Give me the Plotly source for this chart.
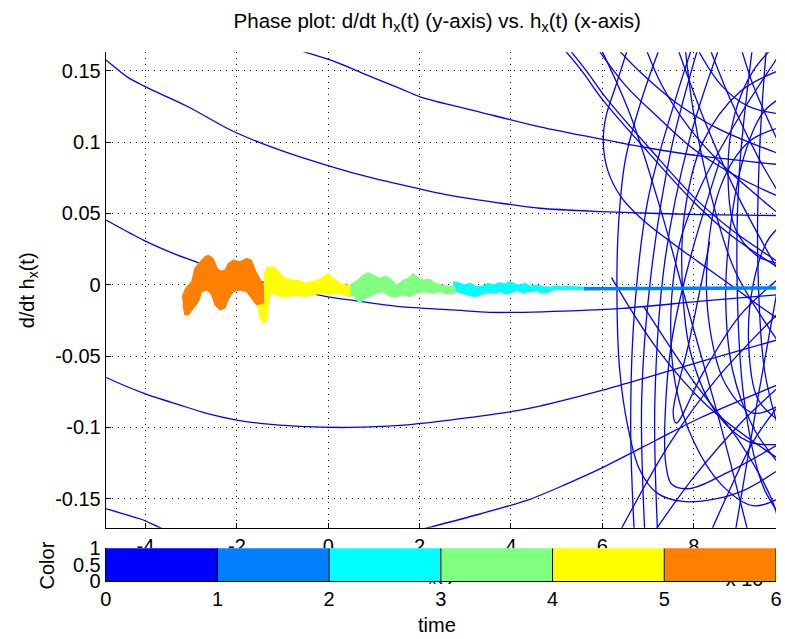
import plotly.graph_objects as go

# ---- axis ticks -------------------------------------------------------------
x_ticks = [-4, -2, 0, 2, 4, 6, 8]
x_tick_text = ["-4", "-2", "0", "2", "4", "6", "8"]
y_ticks = [-0.15, -0.1, -0.05, 0, 0.05, 0.1, 0.15]
y_tick_text = ["-0.15", "-0.1", "-0.05", "0", "0.05", "0.1", "0.15"]
x_range = [-4.87, 9.80]
y_range = [-0.1704, 0.1630]

# ---- time 0-1: large early swings of the trajectory (thin blue) -------------
arc_a_x = [-5.10, -4.871, -4.411, -4.033, -3.098, -2.173, -1.495, -0.619, 0.475,
           1.569, 2.663, 3.757, 4.632, 5.945, 7.039, 8.133, 9.85]
arc_a_y = [0.1618, 0.1576, 0.1459, 0.1393, 0.1253, 0.1090, 0.0996, 0.0896, 0.0790,
           0.0703, 0.0626, 0.0573, 0.0536, 0.0513, 0.0501, 0.0492, 0.0485]

arc_b_x = [-0.729, 0.103, 0.840, 1.569, 2.007, 3.319, 4.632, 5.945, 7.039, 8.133, 9.85]
arc_b_y = [0.1652, 0.1569, 0.1471, 0.1377, 0.1318, 0.1211, 0.1106, 0.1022, 0.0957,
           0.0903, 0.0843]

arc_c_x = [-5.10, -4.871, -4.048, -3.355, -2.807, -2.370, -1.932, -1.451, -0.838,
           -0.035, 0.475, 1.569, 2.735, 3.538, 4.705, 5.799, 6.448, 8.287, 9.85]
arc_c_y = [0.0489, 0.0454, 0.0313, 0.0215, 0.0150, 0.0096, 0.0058, 0.0019, -0.0030,
           -0.0084, -0.0107, -0.0154, -0.0177, -0.0194, -0.0190, -0.0177, -0.0166,
           -0.0112, -0.0070]

arc_d_x = [-5.10, -4.871, -4.033, -3.245, -2.661, -2.004, -1.495, -0.619, 0.475,
           1.569, 2.663, 3.757, 4.632, 5.945, 7.039, 8.133, 9.85]
arc_d_y = [-0.0612, -0.0649, -0.0762, -0.0844, -0.0902, -0.0949, -0.0972, -0.0994,
           -0.1001, -0.0987, -0.0949, -0.0903, -0.0851, -0.0745, -0.0644, -0.0542,
           -0.0385]

arc_e_x = [1.131, 2.182, 3.319, 4.414, 5.2, 5.945, 7.186, 8.133, 9.85]
arc_e_y = [-0.179, -0.1704, -0.1608, -0.1505, -0.140, -0.1292, -0.1089, -0.0935, -0.070]

arc_f_x = [-5.105, -4.886, -4.048, -3.683, -3.354]
arc_f_y = [-0.1538, -0.1568, -0.1650, -0.1704, -0.1741]

# tangle of loops on the right-hand side (strands separated by None)
tangle_x = [
    6.60, 6.30, 6.08, 6.02, 6.12, 6.40, 6.90, 7.50, 8.10, 8.80, 9.40, 9.85, None,
    7.30, 6.85, 6.50, 6.35, 6.32, 6.38, 6.56, 6.82, 7.19, 7.76, 8.50, 9.11, 9.85, None,
    8.13, 7.50, 7.05, 6.86, 6.93, None,
    8.60, 7.90, 7.37, 7.15, 7.21, None,
    8.57, 7.91, 7.52, 7.37, 7.39, 7.52, 7.91, 8.72, 9.85, None,
    8.35, 7.90, 7.55, 7.62, 8.20, 9.00, 9.85, None,
    5.03, 5.55, 6.00, 7.00, 8.00, 8.80, 9.85, None,
    5.15, 5.65, 6.08, 7.05, 8.05, 8.85, 9.85, None,
    6.40, 7.50, 8.50, 9.85, None,
    7.10, 8.00, 9.00, 9.85, None,
    6.20, 7.20, 8.30, 9.85, None,
    6.90, 8.00, 9.00, 9.70, 9.85, None,
    9.85, 9.00, 8.20, 7.80, 7.75, 7.95, 8.50, 9.20, 9.85, None,
    9.85, 9.20, 8.60, 8.30, 8.35, 8.70, 9.30, 9.85, None,
    7.60, 8.30, 9.00, 9.85, None,
    8.30, 8.80, 9.40, 9.85, None,
    9.00, 9.30, 9.85, None,
    9.30, 9.00, 8.95, 9.10, 9.50, 9.85, None,
    9.60, 9.45, 9.40, 9.55, 9.85, None,
    9.85, 9.00, 8.20, 7.70, 7.50, 7.60, 8.00, 8.60, 9.30, 9.85, None,
    5.90, 6.60, 7.30, 7.90, 8.60, 9.20, None,
    8.90, 9.40, 9.85, None,
    7.80, 8.00, 8.40, 8.90, 9.85, None,
    8.35, 8.70, 9.30, 9.85, None,
    5.80, 6.50, 7.20, 8.00, 9.00, 9.85, None,
    6.20, 6.80, 7.60, 8.50, 9.85, None,
    6.70, 6.62, 6.70, 7.00, 7.60, 8.00, None,
    9.85, 9.50, 9.10, 8.80, 8.70, 8.85, 9.30, 9.85, None,
    9.85, 9.60, 9.30, 9.20, 9.40, 9.85, None,
    8.00, 8.60, 9.20, 9.85, None,
    6.90, 7.30, 7.90, 8.60, 9.85, None,
    9.85, 9.30, 8.90, 8.75, 8.90, 9.40, 9.85,
]
tangle_y = [
    0.170, 0.140, 0.118, 0.100, 0.080, 0.062, 0.045, 0.030, 0.016, 0.000, -0.014, -0.024, None,
    0.170, 0.129, 0.087, 0.040, -0.011, -0.060, -0.100, -0.130, -0.146, -0.152, -0.150, -0.144, -0.130, None,
    0.170, 0.094, 0.003, -0.081, -0.175, None,
    0.170, 0.101, 0.017, -0.081, -0.175, None,
    0.087, 0.017, -0.039, -0.095, -0.126, -0.140, -0.143, -0.132, -0.112, None,
    0.030, -0.040, -0.090, -0.097, -0.062, -0.022, 0.004, None,
    0.170, 0.150, 0.130, 0.093, 0.058, 0.035, 0.012, None,
    0.170, 0.150, 0.131, 0.095, 0.060, 0.038, 0.016, None,
    -0.172, -0.110, -0.066, -0.020, None,
    -0.175, -0.135, -0.098, -0.072, None,
    0.005, -0.045, -0.085, -0.122, None,
    -0.015, -0.068, -0.110, -0.150, -0.165, None,
    0.150, 0.135, 0.100, 0.050, 0.000, -0.050, -0.090, -0.110, -0.112, None,
    0.110, 0.100, 0.070, 0.020, -0.030, -0.070, -0.090, -0.085, None,
    0.170, 0.110, 0.060, 0.010, None,
    0.170, 0.130, 0.090, 0.065, None,
    0.170, 0.140, 0.100, None,
    0.170, 0.080, 0.000, -0.080, -0.140, -0.160, None,
    0.170, 0.100, 0.020, -0.060, -0.100, None,
    0.160, 0.118, 0.072, 0.030, -0.020, -0.070, -0.110, -0.140, -0.155, -0.150, None,
    0.170, 0.120, 0.050, -0.020, -0.100, -0.175, None,
    -0.175, -0.080, 0.000, None,
    0.170, 0.120, 0.060, 0.010, -0.040, None,
    -0.175, -0.150, -0.110, -0.085, None,
    0.170, 0.140, 0.118, 0.095, 0.075, 0.062, None,
    0.170, 0.150, 0.128, 0.110, 0.092, None,
    -0.175, -0.100, -0.020, 0.060, 0.130, 0.170, None,
    0.130, 0.120, 0.090, 0.040, -0.010, -0.060, -0.100, -0.125, None,
    0.040, 0.030, 0.000, -0.040, -0.080, -0.095, None,
    0.170, 0.140, 0.125, 0.120, None,
    0.170, 0.140, 0.110, 0.085, 0.050, None,
    0.170, 0.150, 0.120, 0.080, 0.040, 0.020, 0.015,
]

# ---- later time windows: envelope of the fast jitter band --------------------
orange_x = [-3.20, -3.12, -2.99, -2.92, -2.81, -2.70, -2.63, -2.52, -2.44, -2.37,
            -2.26, -2.19, -2.08, -1.93, -1.79, -1.68, -1.60, -1.49, -1.42, -1.41,
            -1.57, -1.68, -1.79, -1.93, -2.08, -2.19, -2.26, -2.37, -2.48, -2.55,
            -2.66, -2.77, -2.84, -2.95, -3.06, -3.14, -3.18]
orange_y = [-0.0086, -0.0023, 0.0021, 0.0117, 0.0161, 0.0196, 0.0208, 0.0185, 0.0126,
            0.0091, 0.0103, 0.0150, 0.0173, 0.0161, 0.0185, 0.0173, 0.0103, 0.0045,
            -0.0002, -0.0128, -0.0142, -0.0095, -0.0049, -0.0037, -0.0049, -0.0107,
            -0.0166, -0.0177, -0.0142, -0.0072, -0.0037, -0.0049, -0.0119, -0.0166,
            -0.0212, -0.0212, -0.0142]

yellow_x = [-1.363, -1.166, -1.057, -0.948, -0.801, -0.656, -0.510, -0.363, -0.219,
            -0.109, 0.0, 0.109, 0.256, 0.403, 0.475, 0.475, 0.328, 0.184, 0.037,
            -0.144, -0.363, -0.510, -0.691, -0.875, -1.057, -1.204, -1.276, -1.313,
            -1.348, -1.422, -1.495, -1.538, -1.538, -1.451, -1.407, -1.385]
yellow_y = [0.0124, 0.0119, 0.0080, 0.0045, 0.0033, 0.0033, 0.0010, 0.0021, 0.0033,
            0.0056, 0.0080, 0.0045, 0.0010, -0.0002, -0.0002, -0.0084, -0.0072,
            -0.0060, -0.0072, -0.0060, -0.0072, -0.0084, -0.0072, -0.0084, -0.0084,
            -0.0060, -0.0072, -0.0142, -0.0259, -0.0271, -0.0234, -0.0142, -0.0093,
            -0.0051, -0.0002, 0.0089]

green_x = [0.475, 0.621, 0.766, 0.875, 0.985, 1.131, 1.241, 1.350, 1.497, 1.641,
           1.751, 1.860, 1.969, 2.079, 2.225, 2.335, 2.481, 2.626, 2.772, 2.772,
           2.591, 2.444, 2.298, 2.116, 1.934, 1.788, 1.641, 1.497, 1.350, 1.204,
           1.059, 0.912, 0.766, 0.694, 0.621, 0.547, 0.475]
green_y = [-0.0002, 0.0026, 0.0068, 0.0084, 0.0068, 0.0045, 0.0061, 0.0045, -0.0002,
           0.0033, 0.0045, 0.0080, 0.0045, 0.0033, 0.0038, 0.0010, -0.0002, -0.0009,
           -0.0014, -0.0060, -0.0065, -0.0049, -0.0060, -0.0049, -0.0060, -0.0084,
           -0.0072, -0.0084, -0.0084, -0.0049, -0.0060, -0.0084, -0.0107, -0.0130,
           -0.0107, -0.0072, -0.0084]

cyan_x = [2.735, 2.845, 2.991, 3.101, 3.247, 3.392, 3.501, 3.611, 3.757, 3.867,
          3.976, 4.085, 4.195, 4.304, 4.414, 4.560, 4.705, 4.851, 4.998, 5.142,
          5.361, 5.654, 5.654, 5.361, 5.142, 4.923, 4.779, 4.670, 4.560, 4.414,
          4.267, 4.123, 4.013, 3.904, 3.757, 3.611, 3.466, 3.319, 3.210, 3.063,
          2.919, 2.810, 2.735]
cyan_y = [0.0021, 0.0014, -0.0002, 0.0010, -0.0014, -0.0009, 0.0010, -0.0002, 0.0014,
          0.0005, 0.0021, 0.0005, -0.0002, 0.0010, -0.0009, -0.0002, -0.0014,
          -0.0018, -0.0009, -0.0009, -0.0014, -0.0018, -0.0037, -0.0032, -0.0032,
          -0.0037, -0.0056, -0.0060, -0.0042, -0.0049, -0.0056, -0.0042, -0.0056,
          -0.0065, -0.0049, -0.0060, -0.0056, -0.0072, -0.0084, -0.0072, -0.0060,
          -0.0049, -0.0037]

late_x = [5.60, 6.50, 7.50, 8.50, 9.85]
late_y = [-0.0028, -0.0028, -0.0026, -0.0025, -0.0023]

# ---- time colour key ----------------------------------------------------------
time_edges = [0, 1, 2, 3, 4, 5, 6]
time_colors = ["#0000FF", "#0080FF", "#00FFFF", "#80FF80", "#FFFF00", "#FF8000"]

FONT = "Liberation Sans, Arial, Helvetica, sans-serif"
BLUE = "#0000FF"
X_DOM = [0.1347, 0.9885]

fig = go.Figure()

for ax, ay in [(arc_a_x, arc_a_y), (arc_b_x, arc_b_y), (arc_c_x, arc_c_y),
               (arc_d_x, arc_d_y), (arc_e_x, arc_e_y), (arc_f_x, arc_f_y)]:
    fig.add_trace(go.Scatter(x=ax, y=ay, mode="lines",
                             line=dict(color=BLUE, width=1.3, shape="spline", smoothing=0.8),
                             hoverinfo="skip"))

fig.add_trace(go.Scatter(x=tangle_x, y=tangle_y, mode="lines", connectgaps=False,
                         line=dict(color=BLUE, width=1.3, shape="spline", smoothing=1.0),
                         hoverinfo="skip"))

for bx, by, col in [(cyan_x, cyan_y, time_colors[2]),
                    (green_x, green_y, time_colors[3]),
                    (yellow_x, yellow_y, time_colors[4]),
                    (orange_x, orange_y, time_colors[5])]:
    fig.add_trace(go.Scatter(x=bx, y=by, mode="lines", fill="toself", fillcolor=col,
                             line=dict(color=col, width=1), hoverinfo="skip"))

fig.add_trace(go.Scatter(x=late_x, y=late_y, mode="lines",
                         line=dict(color=time_colors[1], width=3.4), hoverinfo="skip"))

# helper layer (x2/y2, no visible axes) holding the phase axes' x label and
# exponent; it sits under the colour key, so only their lower edges peek out
fig.add_trace(go.Scatter(x=[2.36, 9.80], y=[0.63, 0.475], mode="text",
                         text=["h<sub>x</sub>(t)", "x 10<sup>-3</sup>"],
                         textposition=["middle center", "middle left"],
                         textfont=dict(family=FONT, size=20, color="#000"),
                         cliponaxis=False, xaxis="x2", yaxis="y2", hoverinfo="skip"))

# colour key: one block per time window
mids = [(a + b) / 2 for a, b in zip(time_edges[:-1], time_edges[1:])]
fig.add_trace(go.Bar(x=mids, y=[1] * len(mids), width=1, base=0,
                     marker=dict(color=time_colors, line=dict(width=0)),
                     xaxis="x3", yaxis="y3", hoverinfo="skip"))
sep_x, sep_y = [], []
for e in time_edges[1:]:
    sep_x += [e, e, None]
    sep_y += [0, 1, None]
fig.add_trace(go.Scatter(x=sep_x, y=sep_y, mode="lines", line=dict(color="#000", width=1),
                         xaxis="x3", yaxis="y3", hoverinfo="skip"))

tick_font = dict(family=FONT, size=20, color="#000")
label_font = dict(family=FONT, size=20, color="#000")
fig.update_layout(
    width=785, height=639,
    margin=dict(l=0, r=0, t=0, b=0),
    paper_bgcolor="white", plot_bgcolor="white",
    showlegend=False,
    bargap=0,
    title=dict(text="Phase plot: d/dt h<sub>x</sub>(t) (y-axis) vs. h<sub>x</sub>(t) (x-axis)",
               x=0.557, xanchor="center", y=0.968, yanchor="middle",
               font=dict(family=FONT, size=20.5, color="#000")),
    xaxis=dict(domain=X_DOM, anchor="y", range=x_range,
               tickvals=x_ticks, ticktext=x_tick_text, ticks="inside", ticklen=5,
               tickcolor="#000", showline=True, linecolor="#000", linewidth=1,
               showgrid=True, gridcolor="#000", gridwidth=1, griddash="1px,5px",
               zeroline=False, tickfont=tick_font, automargin=False),
    yaxis=dict(domain=[0.1742, 0.9182], anchor="x", range=y_range,
               tickvals=y_ticks, ticktext=y_tick_text, ticks="inside", ticklen=5,
               tickcolor="#000", showline=True, linecolor="#000", linewidth=1,
               showgrid=True, gridcolor="#000", gridwidth=1, griddash="1px,5px",
               zeroline=False, tickfont=tick_font, automargin=False),
    # helper axes for the partly covered label and exponent
    xaxis2=dict(domain=X_DOM, anchor="y2", range=x_range, visible=False),
    yaxis2=dict(domain=[0.0610, 0.1236], anchor="x2", range=[0, 1], visible=False),
    # colour key axes
    xaxis3=dict(domain=X_DOM, anchor="y3", range=[0, 6],
                tickvals=time_edges, ticktext=[str(t) for t in time_edges], ticks="",
                showline=True, linecolor="#000", linewidth=1, showgrid=False,
                zeroline=False, tickfont=tick_font, automargin=False),
    yaxis3=dict(domain=[0.0908, 0.1419], anchor="x3", range=[0, 1],
                tickvals=[0, 0.5, 1], ticktext=["0", "0.5", "1"], ticks="",
                showline=True, linecolor="#000", linewidth=1, showgrid=False,
                zeroline=False, tickfont=tick_font, automargin=False),
    annotations=[
        dict(text="d/dt h<sub>x</sub>(t)", x=0.036, y=0.546, xref="paper", yref="paper",
             xanchor="center", yanchor="middle",
             textangle=-90, showarrow=False, font=label_font),
        dict(text="Color", x=0.0605, y=0.1158, xref="paper", yref="paper",
             xanchor="center", yanchor="middle",
             textangle=-90, showarrow=False, font=label_font),
        dict(text="time", x=0.5567, y=0.0219, xref="paper", yref="paper",
             xanchor="center", yanchor="middle",
             showarrow=False, font=label_font),
    ],
)

fig.write_html("out.html")
